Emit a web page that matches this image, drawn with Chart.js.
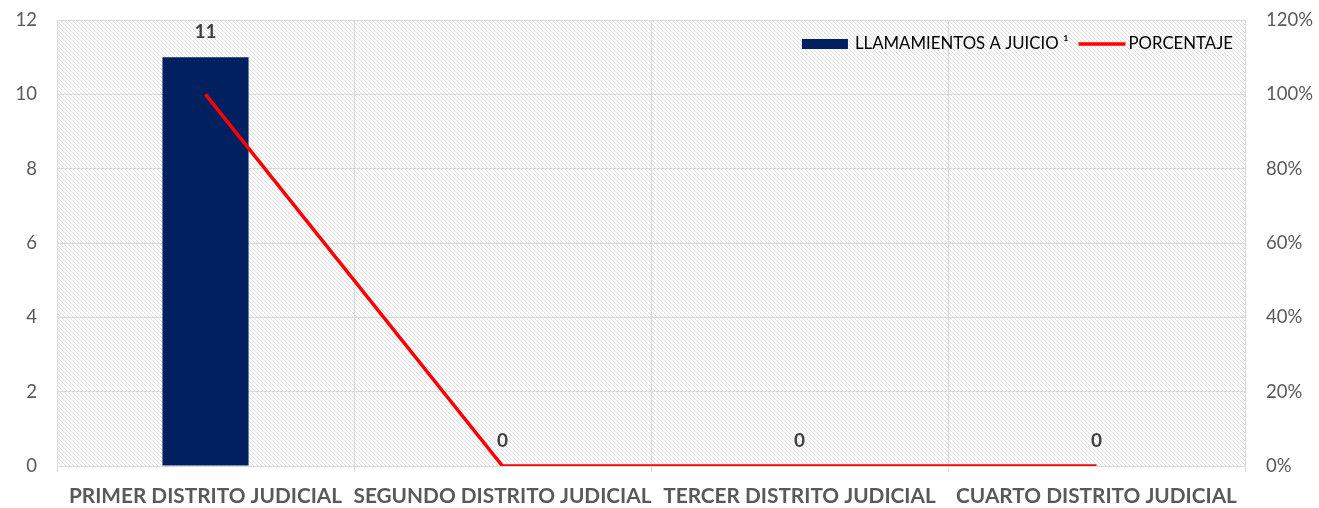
<!DOCTYPE html>
<html>
<head>
<meta charset="utf-8">
<script src="https://cdn.jsdelivr.net/npm/chart.js@4.4.1/dist/chart.umd.min.js"></script>
<style>
html,body{margin:0;padding:0;background:#fff;}
#wrap{width:1319px;height:508px;position:relative;}
</style>
</head>
<body>
<div id="wrap"><canvas id="c" width="1319" height="508"></canvas></div>
<script>
const categories = ['PRIMER DISTRITO JUDICIAL','SEGUNDO DISTRITO JUDICIAL','TERCER DISTRITO JUDICIAL','CUARTO DISTRITO JUDICIAL'];
const llamamientos = [11, 0, 0, 0];
const porcentaje = [100, 0, 0, 0];
const leftTicks = [0, 2, 4, 6, 8, 10, 12];
const rightTicks = [0, 20, 40, 60, 80, 100, 120];
const seriesNames = ['LLAMAMIENTOS A JUICIO \u00B9', 'PORCENTAJE'];

const FONT = 'Lato, "Open Sans", sans-serif';

function makeHatch(){
  const t = document.createElement('canvas');
  t.width = 8; t.height = 8;
  const g = t.getContext('2d');
  g.fillStyle = '#ffffff'; g.fillRect(0,0,8,8);
  g.fillStyle = '#dddddd';
  for (let y=0;y<8;y++) for (let x=0;x<8;x++){
    if (((x - y) % 4 + 4) % 4 === 0) g.fillRect(x,y,1,1);
  }
  return t;
}

const hatchPlugin = {
  id:'hatch',
  beforeDraw(chart){
    const {ctx, chartArea:a} = chart;
    ctx.save();
    ctx.fillStyle = ctx.createPattern(makeHatch(), 'repeat');
    ctx.fillRect(a.left, a.top, a.right-a.left, a.bottom-a.top);
    ctx.restore();
  }
};

const labelPlugin = {
  id:'vals',
  afterDatasetsDraw(chart){
    const ctx = chart.ctx;
    const meta = chart.getDatasetMeta(1);
    ctx.save();
    ctx.font = 'bold 19px ' + FONT;
    ctx.fillStyle = '#404040';
    ctx.textAlign = 'center';
    ctx.textBaseline = 'middle';
    meta.data.forEach((bar, i) => {
      ctx.fillText(String(llamamientos[i]), bar.x, bar.y - 25);
    });
    ctx.restore();
  }
};

const legendPlugin = {
  id:'legendIn',
  afterDraw(chart){
    const ctx = chart.ctx;
    ctx.save();
    ctx.font = '16.8px ' + FONT;
    ctx.fillStyle = '#000000';
    ctx.textBaseline = 'middle';
    const y = 44;
    const right = 1233;
    const w2 = ctx.measureText(seriesNames[1]).width;
    const x2t = right - w2;
    const x2l = x2t - 50;
    const w1 = ctx.measureText(seriesNames[0]).width;
    const x1t = x2l - 10 - w1;
    const x1b = x1t - 53;
    ctx.fillStyle = '#002060';
    ctx.fillRect(x1b, y-5, 46, 10);
    ctx.fillStyle = '#000000';
    ctx.fillText(seriesNames[0], x1t, y);
    ctx.strokeStyle = '#ff0000';
    ctx.lineWidth = 3.5;
    ctx.beginPath(); ctx.moveTo(x2l, y); ctx.lineTo(x2l+47, y); ctx.stroke();
    ctx.fillText(seriesNames[1], x2t, y);
    ctx.restore();
  }
};

new Chart(document.getElementById('c'), {
  data:{
    labels: categories,
    datasets:[
      {type:'line', label:seriesNames[1], data:porcentaje, yAxisID:'y1', borderColor:'#ff0000', borderWidth:3.5, pointRadius:0, tension:0, order:0},
      {type:'bar', label:seriesNames[0], data:llamamientos, yAxisID:'y', backgroundColor:'#002060', categoryPercentage:1, barPercentage:0.29, order:1}
    ]
  },
  options:{
    responsive:false,
    animation:false,
    layout:{padding:{top:20, left:0, right:0, bottom:0}},
    plugins:{legend:{display:false}, tooltip:{enabled:false}},
    scales:{
      x:{
        offset:true,
        grid:{color:'#d9d9d9', offset:true, tickLength:6, drawOnChartArea:true},
        border:{color:'#d9d9d9'},
        ticks:{font:{family:FONT, size:20.8, weight:'bold'}, color:'#595959', padding:12, maxRotation:0, autoSkip:false},
        afterFit(s){ s.height = 42; s.paddingLeft = 0; s.paddingRight = 0; }
      },
      y:{
        position:'left', min:0, max:12,
        afterBuildTicks(s){ s.ticks = leftTicks.map(v=>({value:v})); },
        grid:{color:'#d9d9d9', drawTicks:false},
        border:{display:false},
        ticks:{font:{family:FONT, size:18.5}, color:'#595959', padding:20},
        afterFit(s){ s.width = 57; s.paddingTop = 0; s.paddingBottom = 0; }
      },
      y1:{
        position:'right', min:0, max:120,
        afterBuildTicks(s){ s.ticks = rightTicks.map(v=>({value:v})); },
        grid:{drawOnChartArea:false, drawTicks:false},
        border:{display:false},
        ticks:{font:{family:FONT, size:18.5}, color:'#595959', padding:21, callback:v=>v+'%'},
        afterFit(s){ s.width = 74; s.paddingTop = 0; s.paddingBottom = 0; }
      }
    }
  },
  plugins:[hatchPlugin, labelPlugin, legendPlugin]
});
</script>
</body>
</html>
